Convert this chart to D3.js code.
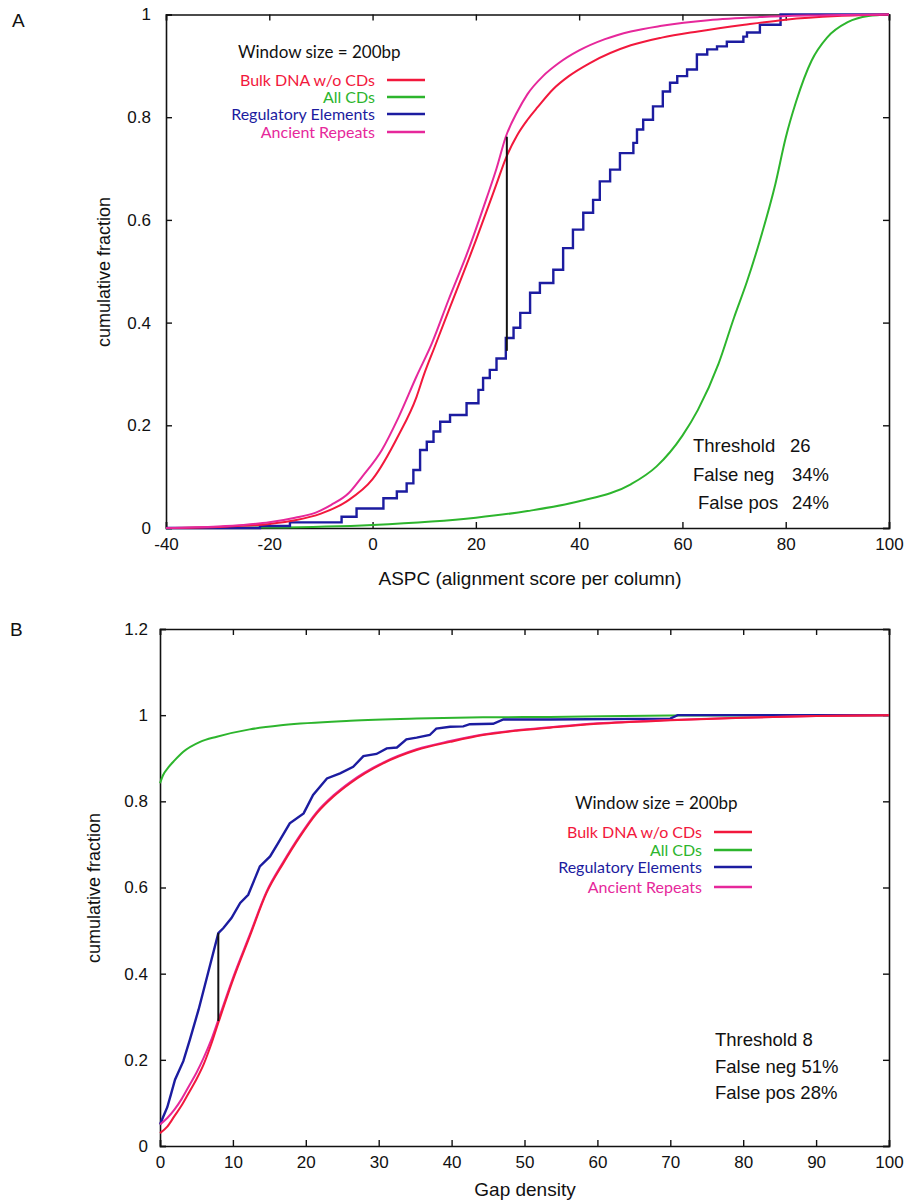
<!DOCTYPE html>
<html>
<head>
<meta charset="utf-8">
<script src="https://cdn.jsdelivr.net/npm/d3@7"></script>
<style>
  body { margin: 0; background: #fff; }
  svg text { fill: #111; }
  .tick text { font-family: "Liberation Sans", Arial, sans-serif; font-size: 17px; }
  .legend { font-family: Lato, "Noto Sans", sans-serif; font-size: 16px; }
  .note { font-family: "Liberation Sans", Arial, sans-serif; font-size: 18.5px; }
</style>
</head>
<body>
<div id="chart"></div>
<script>
// ---- data ----
const seriesNames = ["Bulk DNA w/o CDs", "All CDs", "Regulatory Elements", "Ancient Repeats"]
const seriesColors = ["#f2183c", "#2db52d", "#1c1ca0", "#e6289b"]

// panel A: ASPC
const aXTicks = [-40, -20, 0, 20, 40, 60, 80, 100]
const aYTicks = [0, 0.2, 0.4, 0.6, 0.8, 1]
const aBulk = [[-40, 0], [-30, 0.002], [-20, 0.008], [-15, 0.015], [-10, 0.028], [-5, 0.052], [0, 0.095],
  [5, 0.18], [8.5, 0.255], [10, 0.3], [12, 0.352], [15, 0.43], [20, 0.56], [24, 0.67], [25.8, 0.72],
  [28, 0.765], [30, 0.795], [32, 0.82], [35, 0.855], [38, 0.88], [42, 0.905], [50, 0.94], [56, 0.955],
  [63, 0.967], [72, 0.98], [80, 0.99], [90, 0.997], [100, 1]]
const aCDs = [[-40, 0], [-20, 0.001], [0, 0.006], [20, 0.02], [30, 0.033], [40, 0.052], [50, 0.085], [55, 0.12],
  [60, 0.18], [63, 0.23], [67, 0.32], [70, 0.41], [72.5, 0.48], [75, 0.56], [78, 0.67], [80, 0.76], [82, 0.83],
  [85, 0.91], [88, 0.955], [92, 0.985], [96, 0.997], [100, 1]]
const aReg = [[-40, 0], [-21.8, 0.004], [-16, 0.011], [-6, 0.022], [-3.1, 0.038], [2.1, 0.058], [4.7, 0.071],
  [6.6, 0.087], [7.9, 0.113], [9.2, 0.152], [10.5, 0.168], [11.8, 0.188], [13.1, 0.207], [15, 0.22], [18.2, 0.243],
  [20.5, 0.269], [21.4, 0.292], [22.7, 0.308], [24, 0.33], [25.8, 0.37], [27.3, 0.39], [28.6, 0.419], [30.5, 0.458],
  [32.4, 0.477], [35, 0.503], [36.9, 0.545], [38.8, 0.581], [40.8, 0.614], [42.7, 0.639], [44, 0.675], [46, 0.698],
  [47.9, 0.73], [50.5, 0.75], [51.2, 0.776], [52.4, 0.795], [54.3, 0.821], [56.2, 0.85], [57.6, 0.867], [59, 0.88],
  [60.9, 0.893], [62.8, 0.922], [64.8, 0.932], [66.7, 0.938], [68.6, 0.947], [71.8, 0.957], [72.5, 0.965],
  [75, 0.98], [79, 1], [100, 1]]
const aRepeats = [[-40, 0], [-30, 0.003], [-25, 0.006], [-20, 0.011], [-15, 0.02], [-11, 0.03], [-8, 0.045],
  [-4.6, 0.068], [-2, 0.1], [1.8, 0.152], [5, 0.215], [8.5, 0.295], [11.5, 0.36], [14.7, 0.444], [18.5, 0.54],
  [22, 0.64], [24, 0.7], [25.8, 0.762], [28, 0.81], [30, 0.845], [33, 0.88], [36, 0.905], [40, 0.93],
  [45, 0.952], [50, 0.967], [56, 0.978], [65, 0.989], [75, 0.995], [85, 0.998], [100, 1]]
const aThreshold = 26
const aThresholdSpan = [0.345, 0.762]
const aNotes = [["Threshold", "26"], ["False neg", "34%"], ["False pos", "24%"]]

// panel B: gap density
const bXTicks = [0, 10, 20, 30, 40, 50, 60, 70, 80, 90, 100]
const bYTicks = [0, 0.2, 0.4, 0.6, 0.8, 1, 1.2]
const bBulk = [[0, 0.03], [1, 0.045], [2, 0.07], [3, 0.095], [4, 0.125], [5, 0.155], [6, 0.19], [7, 0.235],
  [8, 0.286], [10, 0.385], [12.3, 0.486], [14.6, 0.587], [16.9, 0.656], [19.2, 0.718], [21.5, 0.772],
  [23.8, 0.811], [26.1, 0.842], [30.6, 0.888], [35.2, 0.919], [39.8, 0.938], [44.3, 0.954], [48.9, 0.964],
  [53.5, 0.971], [60, 0.98], [70, 0.988], [80, 0.994], [90, 0.998], [100, 1]]
const bCDs = [[0, 0.842], [0.4, 0.86], [1.2, 0.88], [2, 0.895], [3.2, 0.915], [5.5, 0.938], [7.8, 0.95],
  [12.3, 0.967], [16.9, 0.977], [26.1, 0.987], [35.2, 0.992], [44.3, 0.995], [53.5, 0.996], [70, 0.999], [100, 1]]
const bReg = [[0, 0.05], [0.5, 0.07], [1, 0.09], [1.5, 0.12], [2.06, 0.154], [3.2, 0.197], [4.1, 0.247],
  [5.3, 0.317], [6.6, 0.402], [8, 0.494], [8.7, 0.506], [9.8, 0.529], [11, 0.564], [12.1, 0.583], [13.7, 0.649],
  [15.1, 0.672], [16.2, 0.703], [17.8, 0.749], [19.7, 0.772], [21, 0.815], [22.9, 0.853], [24.7, 0.865],
  [26.5, 0.88], [27.9, 0.905], [29.7, 0.91], [31.1, 0.923], [32.5, 0.925], [33.8, 0.944], [35.2, 0.948],
  [37, 0.954], [37.9, 0.969], [39.8, 0.973], [41.6, 0.974], [42.5, 0.979], [45.7, 0.98], [47.1, 0.99],
  [53.5, 0.99], [70, 0.992], [71, 1], [100, 1]]
const bRepeats = [[0, 0.05], [1, 0.065], [2, 0.085], [3, 0.11], [4, 0.14], [5, 0.17], [6, 0.205], [7, 0.245],
  [8, 0.293], [10, 0.39], [12.3, 0.49], [14.6, 0.59], [16.9, 0.659], [19.2, 0.721], [21.5, 0.775],
  [23.8, 0.814], [26.1, 0.845], [30.6, 0.89], [35.2, 0.921], [39.8, 0.94], [44.3, 0.955], [48.9, 0.965],
  [53.5, 0.972], [60, 0.981], [70, 0.989], [80, 0.994], [90, 0.998], [100, 1]]
const bThreshold = 8
const bThresholdSpan = [0.29, 0.494]
const bNotes = ["Threshold  8", "False neg 51%", "False pos 28%"]

const WIDTH = 905
const HEIGHT = 1202

const svg = d3.select("#chart").append("svg")
  .attr("width", WIDTH)
  .attr("height", HEIGHT)

// plain numbers, hyphen for minus: "-40", "0.2", "1"
const fmt = d => String(+d.toFixed(2))

// frame with inward ticks on all four sides, labels left/bottom
function drawFrame(x, y, xTicks, yTicks, yPad) {
  const [x0, x1] = x.range()
  const [y0, y1] = y.range()
  const g = svg.append("g")
  g.append("g").attr("transform", `translate(0,${y0})`)
    .call(d3.axisBottom(x).tickValues(xTicks).tickSize(-6).tickPadding(10).tickFormat(fmt))
  g.append("g").attr("transform", `translate(${x0},0)`)
    .call(d3.axisLeft(y).tickValues(yTicks).tickSize(-6).tickPadding(yPad).tickFormat(fmt))
  g.append("g").attr("transform", `translate(0,${y1})`)
    .call(d3.axisTop(x).tickValues(xTicks).tickSize(-6).tickFormat(""))
  g.append("g").attr("transform", `translate(${x1},0)`)
    .call(d3.axisRight(y).tickValues(yTicks).tickSize(-6).tickFormat(""))
  g.selectAll(".domain").attr("stroke", "#111").attr("stroke-width", 1.6)
  g.selectAll(".tick line").attr("stroke", "#111").attr("stroke-width", 1.4)
  g.selectAll(".tick text").attr("fill", "#111")
}

// data[i] goes with seriesColors[i]; order = drawing order
function drawCurves(x, y, data, curves, order) {
  order.forEach(i => {
    const line = d3.line()
      .x(p => x(p[0]))
      .y(p => y(p[1]))
      .curve(curves[i])
    svg.append("path")
      .datum(data[i])
      .attr("d", line)
      .attr("fill", "none")
      .attr("stroke", seriesColors[i])
      .attr("stroke-width", i === 2 ? 2.4 : 2)
  })
}

function drawLegend(titleX, titleY, textRight, rowYs) {
  svg.append("text").attr("class", "legend")
    .attr("x", titleX).attr("y", titleY).attr("dy", "0.35em")
    .style("font-size", "17px")
    .text("Window size = 200bp")
  seriesNames.forEach((name, i) => {
    svg.append("text").attr("class", "legend")
      .attr("x", textRight).attr("y", rowYs[i]).attr("dy", "0.35em")
      .attr("text-anchor", "end")
      .style("fill", seriesColors[i])
      .text(name)
    svg.append("line")
      .attr("x1", textRight + 12).attr("x2", textRight + 50)
      .attr("y1", rowYs[i]).attr("y2", rowYs[i])
      .attr("stroke", seriesColors[i]).attr("stroke-width", 2.4)
  })
}

function axisTitles(xText, xPos, yText, yPos) {
  svg.append("text")
    .attr("x", xPos[0]).attr("y", xPos[1])
    .attr("text-anchor", "middle")
    .style("font-family", "Liberation Sans, Arial, sans-serif").style("font-size", "19px")
    .text(xText)
  svg.append("text")
    .attr("transform", `translate(${yPos[0]},${yPos[1]}) rotate(-90)`)
    .attr("text-anchor", "middle")
    .style("font-family", "Liberation Sans, Arial, sans-serif").style("font-size", "18px")
    .text(yText)
}

// ---------- panel A ----------
const xA = d3.scaleLinear().domain([-40, 100]).range([166, 889])
const yA = d3.scaleLinear().domain([0, 1]).range([528, 14.5])

drawFrame(xA, yA, aXTicks, aYTicks, 15)
drawCurves(xA, yA, [aBulk, aCDs, aReg, aRepeats],
  [d3.curveMonotoneX, d3.curveMonotoneX, d3.curveStepAfter, d3.curveMonotoneX], [1, 2, 0, 3])

svg.append("line")
  .attr("x1", xA(aThreshold)).attr("x2", xA(aThreshold))
  .attr("y1", yA(aThresholdSpan[0])).attr("y2", yA(aThresholdSpan[1]))
  .attr("stroke", "#111").attr("stroke-width", 2)

drawLegend(238, 52, 375, [80, 97, 114, 132])

aNotes.forEach((n, i) => {
  svg.append("text").attr("class", "note")
    .attr("x", i === 2 ? 698 : 693).attr("y", 446 + i * 28.5).attr("dy", "0.35em")
    .text(n[0])
  svg.append("text").attr("class", "note")
    .attr("x", i === 0 ? 790 : 792).attr("y", 446 + i * 28.5).attr("dy", "0.35em")
    .text(n[1])
})

axisTitles("ASPC (alignment score per column)", [530, 585], "cumulative fraction", [110, 272])

svg.append("text").attr("x", 12).attr("y", 27)
  .style("font-family", "Liberation Sans, Arial, sans-serif").style("font-size", "19px")
  .text("A")

// ---------- panel B ----------
const xB = d3.scaleLinear().domain([0, 100]).range([160, 889])
const yB = d3.scaleLinear().domain([0, 1.2]).range([1146, 629])

drawFrame(xB, yB, bXTicks, bYTicks, 12)
drawCurves(xB, yB, [bBulk, bCDs, bReg, bRepeats],
  [d3.curveMonotoneX, d3.curveMonotoneX, d3.curveLinear, d3.curveMonotoneX], [1, 2, 3, 0])

svg.append("line")
  .attr("x1", xB(bThreshold)).attr("x2", xB(bThreshold))
  .attr("y1", yB(bThresholdSpan[0])).attr("y2", yB(bThresholdSpan[1]))
  .attr("stroke", "#111").attr("stroke-width", 2)

drawLegend(575, 803, 702, [832, 850, 867, 887])

bNotes.forEach((n, i) => {
  svg.append("text").attr("class", "note")
    .attr("x", 715).attr("y", 1040 + i * 26.5).attr("dy", "0.35em")
    .text(n)
})

axisTitles("Gap density", [525, 1196], "cumulative fraction", [100, 888])

svg.append("text").attr("x", 10).attr("y", 636)
  .style("font-family", "Liberation Sans, Arial, sans-serif").style("font-size", "19px")
  .text("B")
</script>
</body>
</html>
